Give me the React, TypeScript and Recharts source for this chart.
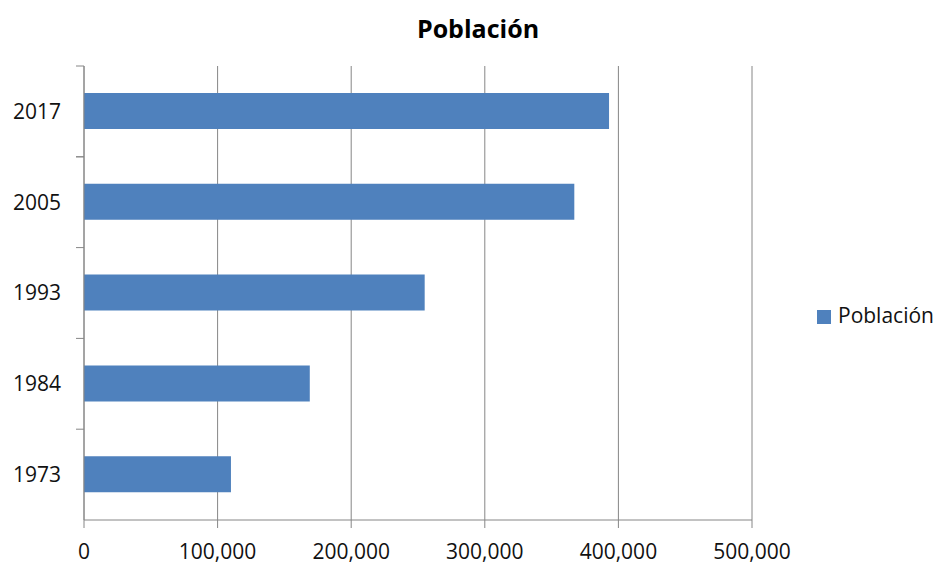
import React from "react";
import { BarChart, Bar, XAxis, YAxis, CartesianGrid, Legend } from "recharts";

// Population by census year
const years = ["1973", "1984", "1993", "2005", "2017"];
const population = [110000, 169000, 255000, 367000, 393000];
const xTicks = [0, 100000, 200000, 300000, 400000, 500000];

const SERIES = "Población";
const BAR_COLOR = "#4F81BD";
const AXIS_COLOR = "#868686";
const FONT = "'Open Sans', sans-serif";
const TICK_LEN = 8;
const TICK_GAP = 15;
const LEGEND_WIDTH = 130;

const data = years.map((year, i) => ({ year, [SERIES]: population[i] }));

// Category label centred in its band, with tick marks on the band edges
function YearTick(props: any) {
  const { x, y, payload, index, height } = props;
  const band = height / years.length;
  const right = x + TICK_GAP + TICK_LEN;
  const left = right - TICK_LEN;
  return (
    <g>
      <line x1={left} x2={right} y1={y - band / 2} y2={y - band / 2} stroke={AXIS_COLOR} />
      {index === years.length - 1 && (
        <line x1={left} x2={right} y1={y + band / 2} y2={y + band / 2} stroke={AXIS_COLOR} />
      )}
      <text x={x} y={y} dy="0.35em" textAnchor="end" fill="#111" fontSize={21} fontFamily={FONT}>
        {payload.value}
      </text>
    </g>
  );
}

export default function App() {
  return (
    <div style={{ position: "absolute", left: 0, top: 0, width: 938, height: 565, background: "#fff" }}>
      <div
        style={{
          position: "absolute",
          left: 378,
          top: 16,
          width: 200,
          textAlign: "center",
          fontFamily: FONT,
          fontWeight: 700,
          fontSize: 25,
          lineHeight: 1,
          color: "#000",
        }}
      >
        Población
      </div>
      <BarChart
        width={938}
        height={565}
        data={data}
        layout="vertical"
        // the legend reserves LEGEND_WIDTH on the right on top of this margin
        margin={{ top: 66, right: 186 - LEGEND_WIDTH, bottom: 0, left: 0 }}
        barSize={36}
      >
        <CartesianGrid horizontal={false} stroke={AXIS_COLOR} />
        <XAxis
          type="number"
          domain={[0, 500000]}
          ticks={xTicks}
          interval={0}
          height={45}
          stroke={AXIS_COLOR}
          tickSize={TICK_LEN}
          tickMargin={16}
          tickFormatter={(v: number) => v.toLocaleString("en-US")}
          tick={{ fill: "#111", fontSize: 21, fontFamily: FONT }}
        />
        <YAxis
          type="category"
          dataKey="year"
          reversed
          width={84}
          stroke={AXIS_COLOR}
          tickLine={false}
          tickSize={TICK_LEN}
          tickMargin={TICK_GAP}
          interval={0}
          tick={<YearTick />}
        />
        <Legend
          layout="vertical"
          align="right"
          verticalAlign="middle"
          iconType="square"
          iconSize={14}
          formatter={(value: string) => (
            <span style={{ color: "#111", marginLeft: 3 }}>{value}</span>
          )}
          wrapperStyle={{ left: 817, top: 301, width: LEGEND_WIDTH, fontFamily: FONT, fontSize: 21 }}
        />
        <Bar dataKey={SERIES} fill={BAR_COLOR} isAnimationActive={false} />
      </BarChart>
    </div>
  );
}
